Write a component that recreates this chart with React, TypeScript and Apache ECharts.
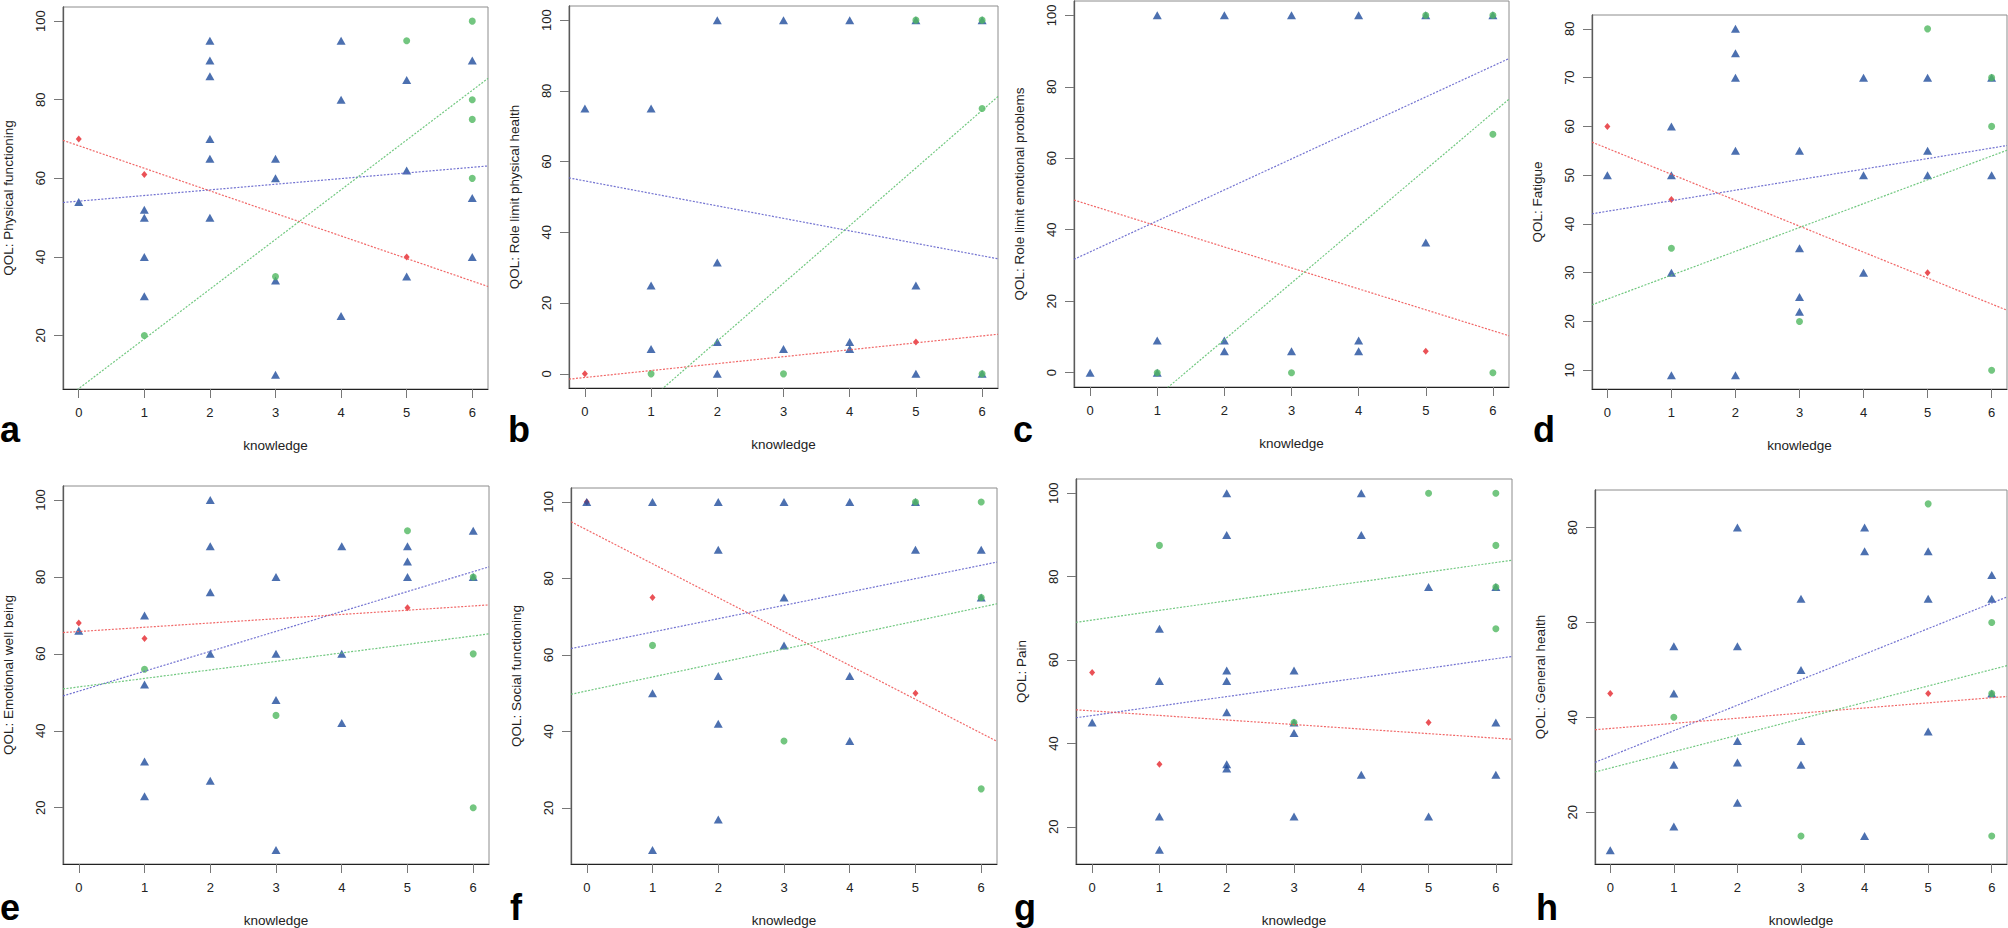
import { useEffect, useRef } from 'react'
import * as echarts from 'echarts'

type Pt = [number, number]

const FONT = '"Liberation Sans", Arial, sans-serif'

const knowledge = [0, 1, 2, 3, 4, 5, 6]
const letters = ['a', 'b', 'c', 'd', 'e', 'f', 'g', 'h']
const yTitles = [
  'QOL: Physical functioning',
  'QOL: Role limit physical health',
  'QOL: Role limit emotional problems',
  'QOL: Fatigue',
  'QOL: Emotional well being',
  'QOL: Social functioning',
  'QOL: Pain',
  'QOL: General health',
]
const yTicks = [
  [20, 40, 60, 80, 100],
  [0, 20, 40, 60, 80, 100],
  [0, 20, 40, 60, 80, 100],
  [10, 20, 30, 40, 50, 60, 70, 80],
  [20, 40, 60, 80, 100],
  [20, 40, 60, 80, 100],
  [20, 40, 60, 80, 100],
  [20, 40, 60, 80],
]

// blue triangles
const bluePts: Pt[][] = [
  [[0, 54], [1, 52], [1, 50], [1, 40], [1, 30], [2, 95], [2, 90], [2, 86], [2, 70], [2, 65], [2, 50], [3, 65], [3, 60], [3, 34], [3, 10], [4, 95], [4, 80], [4, 25], [5, 85], [5, 62], [5, 35], [6, 90], [6, 55], [6, 40]],
  [[0, 75], [1, 75], [1, 25], [1, 7], [2, 100], [2, 31.5], [2, 9], [2, 0], [3, 100], [3, 7], [4, 100], [4, 9], [4, 7], [5, 100], [5, 25], [5, 0], [6, 100], [6, 0]],
  [[0, 0], [1, 100], [1, 9], [1, 0], [2, 100], [2, 9], [2, 6], [3, 100], [3, 6], [4, 100], [4, 9], [4, 6], [5, 100], [5, 36.4], [6, 100]],
  [[0, 50], [1, 60], [1, 50], [1, 30], [1, 9], [2, 80], [2, 75], [2, 70], [2, 55], [2, 9], [3, 55], [3, 35], [3, 25], [3, 22], [4, 70], [4, 50], [4, 30], [5, 70], [5, 55], [5, 50], [6, 70], [6, 50]],
  [[0, 66], [1, 70], [1, 52], [1, 32], [1, 23], [2, 100], [2, 88], [2, 76], [2, 60], [2, 27], [3, 80], [3, 60], [3, 48], [3, 9], [4, 88], [4, 60], [4, 42], [5, 88], [5, 84], [5, 80], [6, 92], [6, 80]],
  [[0, 100], [1, 100], [1, 50], [1, 9], [2, 100], [2, 87.5], [2, 54.5], [2, 42], [2, 17], [3, 100], [3, 75], [3, 62.5], [4, 100], [4, 54.5], [4, 37.5], [5, 100], [5, 87.5], [6, 87.5], [6, 75]],
  [[0, 45], [1, 67.5], [1, 55], [1, 22.5], [1, 14.5], [2, 100], [2, 90], [2, 57.5], [2, 55], [2, 47.5], [2, 35], [2, 34], [3, 57.5], [3, 45], [3, 42.5], [3, 22.5], [4, 100], [4, 90], [4, 32.5], [5, 77.5], [5, 22.5], [6, 77.5], [6, 45], [6, 32.5]],
  [[0, 12], [1, 55], [1, 45], [1, 30], [1, 17], [2, 80], [2, 55], [2, 35], [2, 30.5], [2, 22], [3, 65], [3, 50], [3, 35], [3, 30], [4, 80], [4, 75], [4, 15], [5, 75], [5, 65], [5, 37], [6, 70], [6, 65], [6, 45]],
]

// green circles
const greenPts: Pt[][] = [
  [[1, 20], [3, 35], [5, 95], [6, 100], [6, 80], [6, 75], [6, 60]],
  [[1, 0], [3, 0], [5, 100], [6, 100], [6, 75], [6, 0]],
  [[1, 0], [3, 0], [5, 100], [6, 100], [6, 66.7], [6, 0]],
  [[1, 35], [3, 20], [5, 80], [6, 70], [6, 60], [6, 10]],
  [[1, 56], [3, 44], [5, 92], [6, 80], [6, 60], [6, 20]],
  [[1, 62.5], [3, 37.5], [5, 100], [6, 100], [6, 75], [6, 25]],
  [[1, 87.5], [3, 45], [5, 100], [6, 100], [6, 87.5], [6, 77.5], [6, 67.5]],
  [[1, 40], [3, 15], [5, 85], [6, 60], [6, 45], [6, 15]],
]

// red points
const redPts: Pt[][] = [
  [[0, 70], [1, 61], [5, 40]],
  [[0, 0], [5, 9]],
  [[5, 6]],
  [[0, 60], [1, 45], [5, 30]],
  [[0, 68], [1, 64], [5, 72]],
  [[0, 100], [1, 75], [5, 50]],
  [[0, 57], [1, 35], [5, 45]],
  [[0, 45], [5, 45]],
]

// fitted lines: [intercept, slope]
const blueFit: Pt[] = [[54.2, 1.435], [54.55, -3.53], [33.8, 8.67], [42.6, 2.16], [50.3, 5.18], [62.5, 3.49], [46.7, 2.27], [31.8, 5.38]]
const greenFit: Pt[] = [[6.5, 12.65], [-23.3, 16.3], [-22.5, 15.87], [24.6, 4.89], [51.4, 2.21], [50.6, 3.65], [69.6, 2.3], [29.3, 3.46]]
const redFit: Pt[] = [[68.3, -5.74], [-1.03, 1.96], [46.9, -5.86], [55.5, -5.32], [65.8, 1.11], [92.7, -8.86], [47.8, -1.09], [37.65, 1.08]]

// panel rectangles: left, top, width, height
const layout = [
  [61, 7, 427, 382],
  [569, 6, 429, 382],
  [1074, 1, 435, 386],
  [1592, 15, 415, 374],
  [61, 486, 428, 381],
  [571, 488, 426, 379],
  [1076, 479, 436, 387],
  [1595, 490, 412, 377],
]
const letterPos = [[0, 429], [508, 429], [1013, 429], [1533, 429], [0, 907], [510, 907], [1014, 907], [1536, 907]]

const BLUE = '#1f4c9c'
const GREEN = '#50b860'
const RED = '#e5262c'

export default function App() {
  const ref = useRef<HTMLDivElement>(null)

  useEffect(() => {
    if (!ref.current) return
    const chart = echarts.init(ref.current, undefined, { renderer: 'svg' })
    const grid: any[] = [], xAxis: any[] = [], yAxis: any[] = [], series: any[] = [], graphic: any[] = []
    const xPad = (knowledge[knowledge.length - 1] - knowledge[0]) * 0.04
    const xMin = knowledge[0] - xPad, xMax = knowledge[knowledge.length - 1] + xPad

    layout.forEach(([left, top, width, height], i) => {
      grid.push({ left, top, width, height, show: true, borderColor: '#8c8c8c', borderWidth: 1 })
      const ys = [...bluePts[i], ...greenPts[i], ...redPts[i]].map(p => p[1])
      const lo = Math.min(...ys), hi = Math.max(...ys)
      const pad = (hi - lo) * 0.04
      const txt = { fontFamily: FONT, color: '#222' }
      xAxis.push({
        gridIndex: i, type: 'value', min: xMin, max: xMax,
        name: 'knowledge', nameLocation: 'middle', nameGap: 49,
        nameTextStyle: { ...txt, fontSize: 13.5 },
        axisLine: { show: true, onZero: false, lineStyle: { color: '#222', width: 1 } },
        axisTick: { show: true, length: 9, customValues: knowledge, lineStyle: { color: '#777' } },
        axisLabel: { customValues: knowledge, margin: 17, fontSize: 13, ...txt },
        splitLine: { show: false },
      })
      yAxis.push({
        gridIndex: i, type: 'value', min: lo - pad, max: hi + pad,
        name: yTitles[i], nameLocation: 'middle', nameGap: 48,
        nameTextStyle: { ...txt, fontSize: 13.5 },
        axisLine: { show: true, onZero: false, lineStyle: { color: '#5a5a5a', width: 1.3 } },
        axisTick: { show: true, length: 9, customValues: yTicks[i], lineStyle: { color: '#777' } },
        axisLabel: { customValues: yTicks[i], rotate: 90, margin: 16, fontSize: 13, ...txt },
        splitLine: { show: false },
      })
      const sc = { type: 'scatter', xAxisIndex: i, yAxisIndex: i, silent: true }
      series.push({ ...sc, data: redPts[i], symbol: 'diamond', symbolSize: [6, 7], itemStyle: { color: RED } })
      series.push({ ...sc, data: bluePts[i], symbol: 'triangle', symbolSize: [9, 8], itemStyle: { color: BLUE } })
      series.push({ ...sc, data: greenPts[i], symbol: 'circle', symbolSize: 7, itemStyle: { color: GREEN } })
      const fits: [Pt, string][] = [[blueFit[i], '#6464cc'], [redFit[i], '#ef5858'], [greenFit[i], '#62c272']]
      for (const [[a, b], color] of fits) {
        series.push({
          type: 'line', xAxisIndex: i, yAxisIndex: i, silent: true, symbol: 'none', clip: true,
          data: [[xMin, a + b * xMin], [xMax, a + b * xMax]],
          lineStyle: { color, width: 1.2, type: [2, 1.5], opacity: 0.9 },
        })
      }
      graphic.push({
        type: 'text', x: letterPos[i][0], y: letterPos[i][1],
        style: { text: letters[i], font: `bold 36px ${FONT}`, fill: '#000', textAlign: 'left', textVerticalAlign: 'middle' },
      })
    })

    chart.setOption({ animation: false, backgroundColor: '#fff', grid, xAxis, yAxis, series, graphic })
    return () => chart.dispose()
  }, [])

  return <div ref={ref} style={{ position: 'absolute', left: 0, top: 0, width: 2008, height: 928 }} />
}
